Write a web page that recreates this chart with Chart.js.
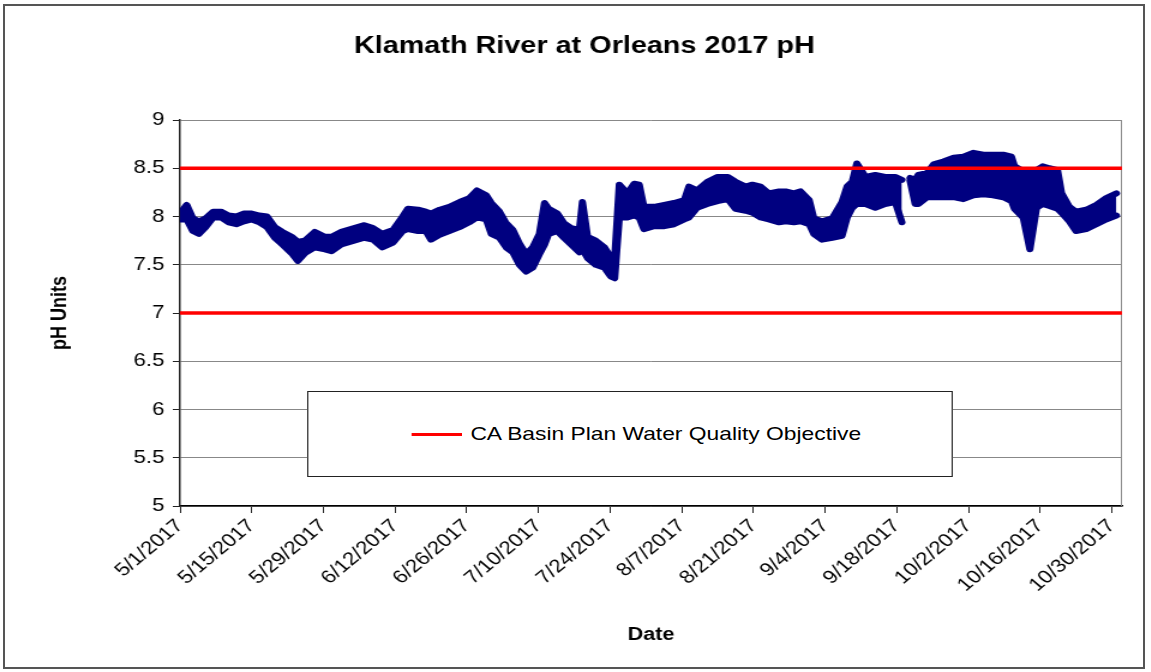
<!DOCTYPE html>
<html>
<head>
<meta charset="utf-8">
<title>Klamath River at Orleans 2017 pH</title>
<script src="https://cdn.jsdelivr.net/npm/chart.js@4.4.1/dist/chart.umd.min.js"></script>
<style>
  html, body { margin: 0; padding: 0; background: #fff; }
  body { width: 1151px; height: 672px; position: relative; overflow: hidden; }
  #frame { position: absolute; left: 3px; top: 4px; width: 1138px; height: 661px; border: 2px solid #555; }
  /* chart is laid out on a narrower canvas and widened to the page width */
  #stage { position: absolute; left: 0; top: 0; width: 959px; height: 672px; transform: scaleX(1.2); transform-origin: 0 0; }
  #legendBox { position: absolute; left: 256px; top: 391px; width: 536px; height: 84px; border: 1px solid #222; background: #fff;
               display: flex; align-items: center; font: 19px "Liberation Sans", Arial, sans-serif; color: #000; }
  #legendBox .swatch { width: 42px; height: 3px; background: red; margin-left: 86px; margin-right: 7px; }
</style>
</head>
<body>
<div id="frame"></div>
<div id="stage">
  <canvas id="phChart" width="959" height="672"></canvas>
  <div id="legendBox"><span class="swatch"></span><span>CA Basin Plan Water Quality Objective</span></div>
</div>
<script>
// Orleans sonde record: days counted from 5/1/2017, daily low / high pH
const readingDay = [0, 1.3, 2.5, 3.7, 5, 6.5, 8, 9.5, 11, 12.5,
  14, 15.5, 17, 18.5, 20, 21.8, 23, 24.4, 26.3, 28.3,
  29.6, 31.5, 34, 36, 37.7, 39.5, 41.6, 43.5, 44.5, 46.5,
  48, 49, 50.7, 52.6, 54.6, 56.5, 58, 59.8, 60.8, 62.4,
  63.7, 65, 66.3, 67.6, 68.9, 70.2, 71.2, 72, 73.7, 75,
  76.4, 78, 78.6, 79.6, 81.2, 82.9, 84.1, 84.9, 85.8, 87.4,
  88.7, 89.7, 90.6, 92.6, 94.6, 96.5, 98.5, 99.4, 101, 103,
  105, 107, 108.5, 110.5, 111.8, 113.4, 115, 117, 118.3, 119.9,
  121.2, 122.9, 123.8, 125.4, 127.4, 129.3, 130.3, 131.3, 132.2, 133.9,
  135.8, 137.7, 139.7, 141, 141.8, 142.6, 143.6, 144.2, 145.9, 147.2,
  149.1, 151.1, 153, 155, 156.9, 158.8, 160.8, 162.4, 163, 164.7,
  166, 167.3, 168.5, 169.8, 171.4, 172.2, 173.7, 175, 177, 179,
  180.9, 182.9];

const phLow = [7.97, 7.97, 7.85, 7.82, 7.89, 7.99, 7.99, 7.94, 7.92, 7.95,
  7.97, 7.94, 7.89, 7.78, 7.71, 7.62, 7.54, 7.62, 7.68, 7.66,
  7.64, 7.71, 7.75, 7.78, 7.76, 7.68, 7.73, 7.85, 7.87, 7.85,
  7.85, 7.76, 7.81, 7.85, 7.89, 7.94, 7.99, 7.97, 7.82, 7.78,
  7.68, 7.63, 7.50, 7.43, 7.47, 7.61, 7.71, 7.82, 7.85, 7.78,
  7.71, 7.63, 7.66, 7.57, 7.50, 7.47, 7.38, 7.36, 7.99, 7.99,
  8.01, 7.99, 7.87, 7.90, 7.90, 7.92, 7.97, 7.99, 8.09, 8.13,
  8.16, 8.18, 8.08, 8.06, 8.04, 7.99, 7.97, 7.94, 7.95, 7.94,
  7.95, 7.92, 7.82, 7.76, 7.78, 7.80, 7.99, 8.09, 8.13, 8.13,
  8.09, 8.13, 8.15, 7.94, null, 8.37, 8.13, 8.13, 8.20, 8.20,
  8.20, 8.20, 8.18, 8.22, 8.23, 8.22, 8.20, 8.16, 8.08, 7.99,
  7.66, 8.09, 8.13, 8.11, 8.08, 8.04, 7.95, 7.85, 7.87, 7.92,
  7.97, 8.01];

const phHigh = [8.03, 8.12, 7.98, 7.95, 7.98, 8.05, 8.05, 8.01, 8.00, 8.03,
  8.03, 8.01, 8.00, 7.89, 7.84, 7.79, 7.74, 7.75, 7.84, 7.79,
  7.79, 7.84, 7.88, 7.91, 7.88, 7.82, 7.86, 8.00, 8.08, 8.07,
  8.05, 8.03, 8.07, 8.10, 8.15, 8.19, 8.27, 8.22, 8.14, 8.05,
  7.93, 7.86, 7.72, 7.61, 7.68, 7.82, 8.14, 8.08, 8.03, 7.93,
  7.88, 7.86, 8.15, 7.79, 7.75, 7.68, 7.58, 7.56, 8.33, 8.24,
  8.34, 8.33, 8.10, 8.10, 8.12, 8.14, 8.17, 8.31, 8.27, 8.36,
  8.41, 8.41, 8.36, 8.31, 8.33, 8.31, 8.24, 8.26, 8.26, 8.24,
  8.26, 8.17, 7.98, 7.95, 7.98, 8.15, 8.31, 8.36, 8.55, 8.41,
  8.43, 8.41, 8.41, 8.38, null, 8.40, 8.38, 8.43, 8.45, 8.54,
  8.57, 8.61, 8.62, 8.66, 8.64, 8.64, 8.64, 8.62, 8.52, 8.47,
  8.47, 8.48, 8.52, 8.50, 8.48, 8.24, 8.10, 8.05, 8.07, 8.12,
  8.19, 8.24];

// Basin Plan pH objective limits
const objectiveLevels = [8.5, 7.0];

const tickDates = ['5/1/2017', '5/15/2017', '5/29/2017', '6/12/2017', '6/26/2017',
  '7/10/2017', '7/24/2017', '8/7/2017', '8/21/2017', '9/4/2017',
  '9/18/2017', '10/2/2017', '10/16/2017', '10/30/2017'];
const axisEndDate = '11/1/2017';

const seasonStart = new Date(tickDates[0]);
const dayOf = s => Math.round((new Date(s) - seasonStart) / 864e5);
const axisEnd = dayOf(axisEndDate);

const NAVY = '#000080';
const FONT = '"Liberation Sans", Arial, sans-serif';

// the daily range is drawn as a filled band between the high and low traces
function phTrace(values, fill) {
  return {
    label: 'pH',
    data: readingDay.map((d, i) => ({ x: d, y: values[i] })),
    borderColor: NAVY,
    backgroundColor: NAVY,
    borderWidth: 6,
    borderJoinStyle: 'round',
    borderCapStyle: 'round',
    pointRadius: 0,
    tension: 0,
    spanGaps: false,
    fill: fill
  };
}

// right-hand edge of the plot area
const plotFrame = {
  id: 'plotFrame',
  beforeDatasetsDraw(chart) {
    const { ctx, chartArea: a } = chart;
    ctx.save();
    ctx.strokeStyle = '#888';
    ctx.lineWidth = 1;
    ctx.beginPath();
    ctx.moveTo(a.right - 0.5, a.top);
    ctx.lineTo(a.right - 0.5, a.bottom);
    ctx.stroke();
    ctx.restore();
  }
};

const ctx = document.getElementById('phChart').getContext('2d');
new Chart(ctx, {
  type: 'line',
  data: {
    datasets: [
      ...objectiveLevels.map(level => ({
        label: 'CA Basin Plan Water Quality Objective',
        data: [{ x: 0, y: level }, { x: axisEnd, y: level }],
        borderColor: 'red',
        borderWidth: 3.5,
        pointRadius: 0,
        fill: false
      })),
      phTrace(phHigh, '+1'),
      phTrace(phLow, false)
    ]
  },
  options: {
    responsive: false,
    animation: false,
    layout: { padding: { left: 39, right: 24, top: 0, bottom: 26 } },
    plugins: {
      legend: { display: false },
      tooltip: { enabled: false },
      filler: { propagate: false },
      title: {
        display: true,
        text: 'Klamath River at Orleans 2017 pH',
        color: '#000',
        font: { family: FONT, size: 24, weight: 'bold' },
        padding: { top: 31.6, bottom: 59.6 }
      }
    },
    scales: {
      x: {
        type: 'linear',
        min: 0,
        max: axisEnd,
        afterBuildTicks: scale => {
          scale.ticks = tickDates.map(s => ({ value: dayOf(s) }));
        },
        afterFit: scale => { scale.height = 140; },
        ticks: {
          autoSkip: false,
          minRotation: 45,
          maxRotation: 45,
          padding: 2,
          color: '#000',
          font: { family: FONT, size: 18.5 },
          callback: (v, i) => tickDates[i]
        },
        grid: { drawOnChartArea: false, tickLength: 7, color: '#222', tickColor: '#222' },
        border: { color: '#000', width: 1.5 },
        title: {
          display: true,
          text: 'Date',
          color: '#000',
          font: { family: FONT, size: 18, weight: 'bold' },
          padding: 0
        }
      },
      y: {
        min: 5,
        max: 9,
        afterFit: scale => { scale.width = 111; },
        ticks: {
          stepSize: 0.5,
          padding: 7,
          color: '#000',
          font: { family: FONT, size: 18.5 },
          callback: v => v.toString()
        },
        grid: { color: '#888', lineWidth: 1, tickLength: 6, tickColor: '#222' },
        border: { color: '#222', width: 1.5 },
        title: {
          display: true,
          text: 'pH Units',
          color: '#000',
          font: { family: FONT, size: 18, weight: 'bold' },
          padding: 0
        }
      }
    }
  },
  plugins: [plotFrame]
});
</script>
</body>
</html>
